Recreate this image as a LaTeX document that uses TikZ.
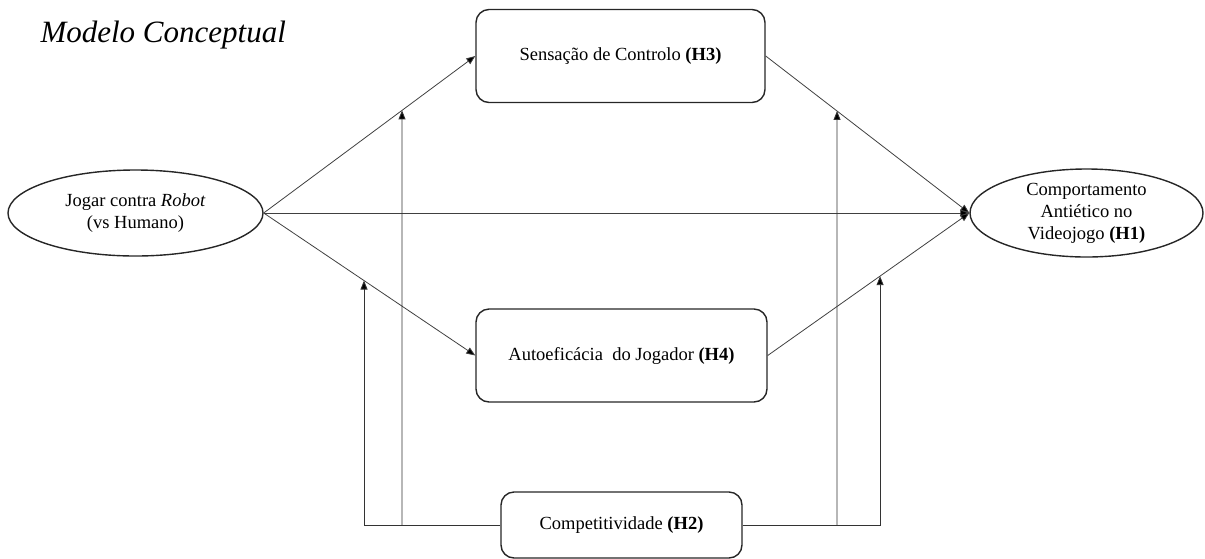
\documentclass[tikz,border=0pt]{standalone}
\usepackage{fontspec}
\setmainfont{Liberation Serif}
\usetikzlibrary{arrows.meta,shapes.geometric}
\begin{document}
\begin{tikzpicture}[x=1pt,y=-1pt,
  txt/.style={font=\fontsize{18.5}{22}\selectfont, align=center, text=black},
  rbox/.style={txt, draw=black!85, line width=1.4pt, rounded corners=13pt, inner sep=0pt},
  ell/.style={txt, draw=black!85, line width=1.4pt, ellipse, inner sep=0pt},
  tip/.style={-{Triangle[length=9pt,width=7pt,fill=black]}},
  conn/.style={draw=black!75, line width=0.8pt, tip},
  modl/.style={draw=black!80, line width=0.9pt},
  moda/.style={modl, tip}
]
\useasboundingbox (0,0) rectangle (1205,558);
\node[anchor=base west, font=\fontsize{31}{36}\selectfont\itshape] (title) at (37,42) {Modelo Conceptual};
\node[ell, minimum width=255pt, minimum height=86pt] (jog) at (135.5,213) {Jogar contra \textit{Robot}\\(vs Humano)};
\node[ell, minimum width=233pt, minimum height=88pt] (cae) at (1086.5,213) {Comportamento\\Antiético no\\Videojogo \textbf{(H1)}};
\node[rbox, minimum width=289pt, minimum height=93pt] (top) at (620.5,56) {Sensação de Controlo \textbf{(H3)}};
\node[rbox, minimum width=291pt, minimum height=93pt] (mid) at (621.5,355.5) {Autoeficácia\ \ do Jogador \textbf{(H4)}};
\node[rbox, minimum width=241pt, minimum height=66pt] (comp) at (621.5,525) {Competitividade \textbf{(H2)}};

\draw[conn] (jog.east) -- (top.west);
\draw[conn] (jog.east) -- (mid.west);
\draw[conn] (jog.east) -- (cae.west);
\draw[conn] (top.east) -- (cae.west);
\draw[conn] (mid.east) -- (cae.west);

\coordinate (i1) at (intersection of jog.east--top.west and 402,0--402,500);
\coordinate (i2) at (intersection of jog.east--mid.west and 364,0--364,500);
\coordinate (i3) at (intersection of top.east--cae.west and 837,0--837,500);
\coordinate (i4) at (intersection of mid.east--cae.west and 880,0--880,500);
\coordinate (b1) at (402,525);
\coordinate (b3) at (837,525);

\draw[moda] (comp.west) -| (i2);
\draw[moda] (b1) -- (i1);
\draw[moda] (comp.east) -| (i4);
\draw[moda] (b3) -- (i3);
\end{tikzpicture}
\end{document}
